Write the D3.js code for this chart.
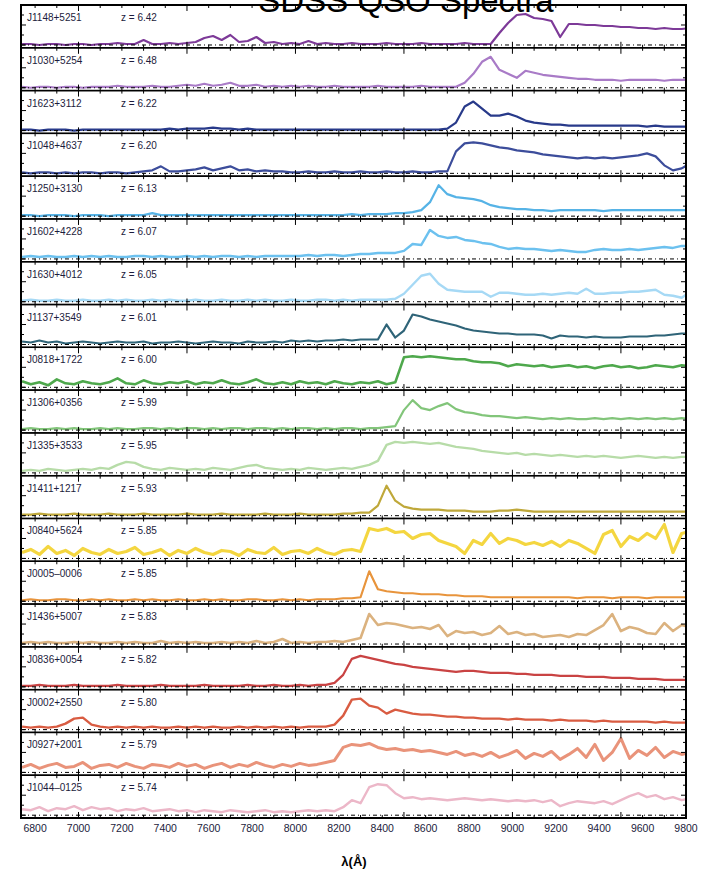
<!DOCTYPE html>
<html>
<head>
<meta charset="utf-8">
<script src="https://cdn.jsdelivr.net/npm/d3@7"></script>
<style>
  body { margin: 0; background: #fff; }
  svg { display: block; }
  text { font-family: "Liberation Sans", Arial, sans-serif; }
</style>
</head>
<body>
<div id="chart"></div>
<script>
// wavelength grid (Angstrom) shared by every spectrum
var wavelengths = [
  6740,6780,6820,6860,6900,6940,6980,7020,7060,7100,
  7140,7180,7220,7260,7300,7340,7380,7420,7460,7500,
  7540,7580,7620,7660,7700,7740,7780,7820,7860,7900,
  7940,7980,8020,8060,8100,8140,8180,8220,8260,8300,
  8340,8380,8420,8460,8500,8540,8580,8620,8660,8700,
  8740,8780,8820,8860,8900,8940,8980,9020,9060,9100,
  9140,9180,9220,9260,9300,9340,9380,9420,9460,9500,
  9540,9580,9620,9660,9700,9740,9780,9820
];

var names = ["J1148+5251","J1030+5254","J1623+3112","J1048+4637","J1250+3130","J1602+4228",
  "J1630+4012","J1137+3549","J0818+1722","J1306+0356","J1335+3533","J1411+1217",
  "J0840+5624","J0005\u20130006","J1436+5007","J0836+0054","J0002+2550","J0927+2001","J1044\u20130125"];
var redshifts = ["6.42","6.48","6.22","6.20","6.13","6.07","6.05","6.01","6.00","5.99",
  "5.95","5.93","5.85","5.85","5.83","5.82","5.80","5.79","5.74"];
var colors = ["#7d3a98","#a97bc7","#283a8a","#3c4d9b","#56b3e6","#6cc1ef","#a6d9f5","#2f6478",
  "#4ea84c","#82c57a","#b7dca8","#bfa83a","#f4d640","#e8943c","#dbb27f","#c94343","#d95c42",
  "#e9937a","#ecb7c8"];
var xTicks = [6800,7000,7200,7400,7600,7800,8000,8200,8400,8600,8800,9000,9200,9400,9600,9800];

// relative flux, one value per wavelength
var fluxJ1148 = [1,1,0,1,1,0,1,1,0,1, 1,2,1,1,5,1,1,2,1,2, 3,7,9,5,10,3,4,8,2,3, 1,2,1,4,1,2,1,1,2,1,
  1,1,2,1,1,1,2,1,1,1, 1,2,1,1,1,12,22,30,31,27, 26,24,8,21,21,20,20,19,19,18, 18,17,17,16,17,16,16,17];
var fluxJ1030 = [1,0,1,1,0,1,1,0,1,1, 1,2,1,1,1,2,1,1,2,3, 2,4,2,3,5,2,2,3,1,2, 1,2,1,2,1,1,2,1,1,1,
  1,2,1,1,1,1,2,1,1,1, 1,5,14,26,31,18,14,10,17,15, 13,12,11,10,9,9,8,8,8,7, 8,8,8,8,7,8,8,8];
var fluxJ1623 = [1,1,0,1,1,1,0,1,1,1, 1,1,1,1,1,1,1,2,1,2, 2,2,3,2,2,1,2,1,1,1, 1,1,1,1,1,1,1,1,1,1,
  1,1,1,1,1,1,1,1,1,2, 8,24,29,22,15,15,17,14,10,8, 7,6,6,5,5,5,5,5,5,5, 5,5,4,5,4,4,4,4];
var fluxJ1048 = [1,0,1,1,0,1,0,1,1,0, 1,1,0,1,2,3,7,2,2,3, 4,6,3,5,7,3,4,2,3,2, 2,1,1,2,1,1,2,1,1,2,
  1,1,2,1,1,2,1,1,2,2, 22,30,31,30,28,26,25,23,22,21, 19,18,17,16,15,16,15,16,15,16, 17,18,20,17,8,3,5,10];
var fluxJ1250 = [1,1,0,1,1,1,0,1,1,1, 0,1,1,1,1,3,1,1,1,1, 1,1,1,1,1,1,1,1,1,1, 1,1,1,1,1,1,1,1,2,1,
  2,2,2,3,3,4,6,14,31,22, 19,18,17,15,11,9,8,7,7,6, 6,5,6,6,6,6,6,5,6,6, 6,6,6,6,6,6,6,6];
var fluxJ1602 = [2,3,2,3,2,2,3,2,3,2, 3,2,2,3,3,2,3,2,2,3, 2,3,2,3,3,2,3,2,3,3, 3,3,3,4,3,4,4,3,4,5,
  5,6,6,6,8,15,14,29,23,21, 22,19,18,16,15,12,10,11,10,10, 9,8,9,8,7,7,9,10,9,9, 10,9,10,11,12,11,13,13];
var fluxJ1630 = [1,2,1,1,2,1,1,2,1,1, 2,1,2,1,1,2,1,2,1,1, 2,1,1,2,1,1,2,1,2,1, 1,2,1,1,2,2,1,2,1,2,
  2,2,2,3,8,17,26,28,18,12, 11,10,10,10,5,9,9,8,7,7, 8,7,8,9,8,13,8,8,9,9, 10,10,11,12,7,6,4,10];
var fluxJ1137 = [3,2,4,2,3,1,2,3,2,1, 2,3,2,2,3,1,2,2,3,2, 1,2,3,2,2,1,3,2,2,3, 2,4,3,4,3,4,4,5,4,5,
  5,5,20,7,14,30,28,25,23,21, 19,16,14,13,12,11,11,10,10,10, 9,6,9,8,8,7,8,7,7,7, 8,8,8,9,9,10,11,11];
var fluxJ0818 = [6,3,5,2,8,4,3,6,4,3, 5,9,4,3,7,4,3,5,4,6, 3,5,4,7,4,3,5,8,4,3, 5,3,6,4,5,3,6,4,3,5,
  4,6,3,5,30,31,30,31,30,29, 28,28,26,25,25,24,21,23,22,21, 22,20,21,22,20,21,19,21,22,20, 21,19,20,22,21,20,22,21];
var fluxJ1306 = [1,2,1,1,2,1,2,1,1,2, 1,2,1,1,2,2,1,2,1,2, 2,1,2,1,2,2,1,2,2,1, 2,1,2,2,1,2,1,2,2,1,
  2,2,3,4,20,30,22,20,24,27, 21,18,17,15,14,14,13,12,13,12, 11,12,11,12,11,11,12,11,12,11, 12,11,12,11,12,11,12,11];
var fluxJ1335 = [2,3,2,4,3,2,3,4,3,5, 4,8,11,10,6,4,3,5,4,3, 4,3,5,4,3,5,7,8,5,4, 3,4,3,5,4,3,4,5,4,6,
  8,12,28,31,30,31,30,29,30,28, 26,25,24,22,21,20,19,20,18,19, 18,17,18,17,16,17,16,17,16,15, 16,17,16,15,16,15,16,16];
var fluxJ1411 = [1,1,2,1,1,1,2,1,1,1, 2,1,1,1,2,1,1,1,1,2, 1,1,1,2,1,1,1,1,2,1, 1,1,2,1,1,1,1,2,2,3,
  3,10,30,15,9,7,6,6,6,5, 5,5,4,4,4,5,5,6,5,4, 4,4,4,4,4,4,4,4,4,4, 4,4,4,4,4,4,4,4];
var fluxJ0840 = [6,9,4,12,5,8,3,10,6,4, 9,5,7,11,4,6,9,3,8,5, 10,6,4,8,7,3,9,6,5,11, 4,7,8,5,10,6,4,8,9,7,
  30,28,30,26,27,20,24,25,18,15, 12,5,18,14,25,15,20,18,14,16, 13,17,12,18,15,10,5,24,28,12, 22,18,25,20,34,6,25,27];
var fluxJ0005 = [1,2,1,1,2,2,1,1,2,1, 2,1,1,2,1,2,1,1,2,1, 1,2,1,2,1,1,2,2,1,1, 2,1,2,1,2,2,2,3,3,4,
  30,12,10,9,8,8,7,7,7,6, 6,5,5,5,4,4,4,4,4,4, 4,4,4,4,3,4,4,4,3,4, 4,4,3,4,4,4,4,4];
var fluxJ1436 = [1,2,1,2,1,1,2,1,2,1, 1,2,1,2,1,1,3,1,2,1, 2,1,1,2,1,2,1,3,1,2, 5,1,2,1,2,2,3,2,4,6,
  30,19,21,20,18,16,17,15,19,8, 13,11,12,9,11,18,10,12,9,10, 7,8,9,7,10,9,14,19,30,13, 17,15,11,10,21,13,19,17];
var fluxJ0836 = [1,1,2,1,1,1,2,1,1,1, 1,2,1,1,1,1,2,1,1,1, 1,2,1,1,1,1,2,1,1,2, 1,1,2,1,2,2,4,12,28,31,
  29,27,25,23,22,20,19,18,17,16, 15,16,16,15,14,14,14,13,13,12, 12,12,11,11,11,10,10,10,9,9, 9,8,8,8,7,7,7,7];
var fluxJ0002 = [3,2,3,2,3,6,11,12,5,3, 2,3,2,3,2,3,2,2,3,2, 3,2,3,2,2,3,2,3,2,3, 2,3,2,3,3,3,5,14,30,31,
  24,22,16,20,18,16,15,15,14,13, 13,12,12,11,11,11,10,11,10,10, 10,9,10,9,9,9,8,9,8,8, 8,8,8,7,8,7,7,7];
var fluxJ0927 = [5,8,4,7,9,5,6,10,4,7, 8,5,9,6,4,8,7,5,9,6, 8,4,7,9,5,8,6,10,7,5, 8,6,9,7,8,10,12,25,28,27,
  29,25,23,24,22,23,21,22,20,18, 21,17,19,16,20,15,18,22,14,19, 16,21,13,18,24,15,28,12,20,34, 14,22,17,25,15,21,18,20];
var fluxJ1044 = [6,5,8,4,7,6,9,5,8,6, 7,4,6,5,7,4,5,6,4,5, 3,5,4,3,5,4,3,4,5,3, 4,3,4,5,4,5,4,8,15,12,
  28,31,30,22,17,18,16,17,16,15, 16,17,16,15,16,15,14,15,14,15, 13,15,9,12,14,13,12,14,11,15, 19,22,18,20,16,18,15,17];

var fluxes = [fluxJ1148, fluxJ1030, fluxJ1623, fluxJ1048, fluxJ1250, fluxJ1602, fluxJ1630, fluxJ1137,
  fluxJ0818, fluxJ1306, fluxJ1335, fluxJ1411, fluxJ0840, fluxJ0005, fluxJ1436, fluxJ0836, fluxJ0002,
  fluxJ0927, fluxJ1044];
// the noisier spectra are drawn as heavier lines
var lineWidths = [2.2,2.2,2.2,2.2,2.2,2.4,2.4,2.2,2.6,2.2,2.4,2.2,3.2,2.2,2.6,2.2,2.4,3.0,2.4];

var width = 701, height = 873;
var plotLeft = 21, plotRight = 686, plotTop = 5, plotBottom = 818;
var panelH = (plotBottom - plotTop) / names.length;

var svg = d3.select("#chart").append("svg")
    .attr("width", width)
    .attr("height", height);

var x = d3.scaleLinear().domain([6735, 9800]).range([plotLeft, plotRight]);
var y = d3.scaleLinear().domain([-2.8, 40]).range([panelH, 0]);

svg.append("defs").append("clipPath").attr("id", "clip")
  .append("rect")
    .attr("x", plotLeft).attr("y", 0)
    .attr("width", plotRight - plotLeft).attr("height", panelH);

// title, cut off by the top edge like in the original
svg.append("text")
    .attr("x", 406).attr("y", 12)
    .attr("text-anchor", "middle")
    .style("font-size", "33px")
    .text("SDSS QSO Spectra");

var line = d3.line()
    .x(function(d) { return x(d[0]); })
    .y(function(d) { return y(d[1]); });

var minorTicks = d3.range(6800, 9801, 100);

var panel = svg.selectAll(".panel")
    .data(names)
    .enter().append("g")
    .attr("class", "panel")
    .attr("transform", function(d, i) { return "translate(0," + (plotTop + i * panelH) + ")"; });

panel.append("path")
    .attr("clip-path", "url(#clip)")
    .attr("fill", "none")
    .attr("stroke", function(d, i) { return colors[i]; })
    .attr("stroke-width", function(d, i) { return lineWidths[i]; })
    .attr("stroke-linejoin", "round")
    .attr("d", function(d, i) {
      return line(wavelengths.map(function(w, k) { return [w, fluxes[i][k]]; }));
    });

// dash-dot zero level
panel.append("line")
    .attr("x1", plotLeft).attr("x2", plotRight)
    .attr("y1", y(0)).attr("y2", y(0))
    .attr("stroke", "#000")
    .attr("stroke-width", 1)
    .attr("stroke-dasharray", "4,3,1,3");

// ticks on top and bottom edges, and on the sides
panel.each(function() {
  var g = d3.select(this);
  minorTicks.forEach(function(t) {
    var len = t % 500 === 0 ? 6 : 3;
    g.append("line").attr("x1", x(t)).attr("x2", x(t))
      .attr("y1", 0).attr("y2", len).attr("stroke", "#000").attr("stroke-width", 1);
    g.append("line").attr("x1", x(t)).attr("x2", x(t))
      .attr("y1", panelH).attr("y2", panelH - len).attr("stroke", "#000").attr("stroke-width", 1);
  });
  [0, 10, 20, 30].forEach(function(v) {
    var len = v % 20 === 0 ? 5 : 3;
    g.append("line").attr("x1", plotLeft).attr("x2", plotLeft + len)
      .attr("y1", y(v)).attr("y2", y(v)).attr("stroke", "#000");
    g.append("line").attr("x1", plotRight).attr("x2", plotRight - len)
      .attr("y1", y(v)).attr("y2", y(v)).attr("stroke", "#000");
  });
});

panel.append("rect")
    .attr("x", plotLeft).attr("y", 0)
    .attr("width", plotRight - plotLeft).attr("height", panelH)
    .attr("fill", "none")
    .attr("stroke", "#000")
    .attr("stroke-width", 1.4);

panel.append("text")
    .attr("x", 27).attr("y", 16)
    .style("font-size", "10px")
    .attr("fill", "#1c1c3c")
    .text(function(d) { return d; });

panel.append("text")
    .attr("x", 121).attr("y", 16)
    .style("font-size", "10px")
    .attr("fill", "#1c1c3c")
    .text(function(d, i) { return "z = " + redshifts[i]; });

// outer frame
svg.append("rect")
    .attr("x", plotLeft).attr("y", plotTop)
    .attr("width", plotRight - plotLeft).attr("height", plotBottom - plotTop)
    .attr("fill", "none")
    .attr("stroke", "#000")
    .attr("stroke-width", 2);

svg.selectAll(".xlabel")
    .data(xTicks)
    .enter().append("text")
    .attr("class", "xlabel")
    .attr("x", function(d) { return x(d); })
    .attr("y", 832)
    .attr("text-anchor", "middle")
    .style("font-size", "10.5px")
    .attr("fill", "#1c1c3c")
    .text(function(d) { return d; });

svg.append("text")
    .attr("x", 354).attr("y", 866)
    .attr("text-anchor", "middle")
    .style("font-size", "13px")
    .style("font-weight", "bold")
    .text("\u03bb(\u00c5)");
</script>
</body>
</html>
